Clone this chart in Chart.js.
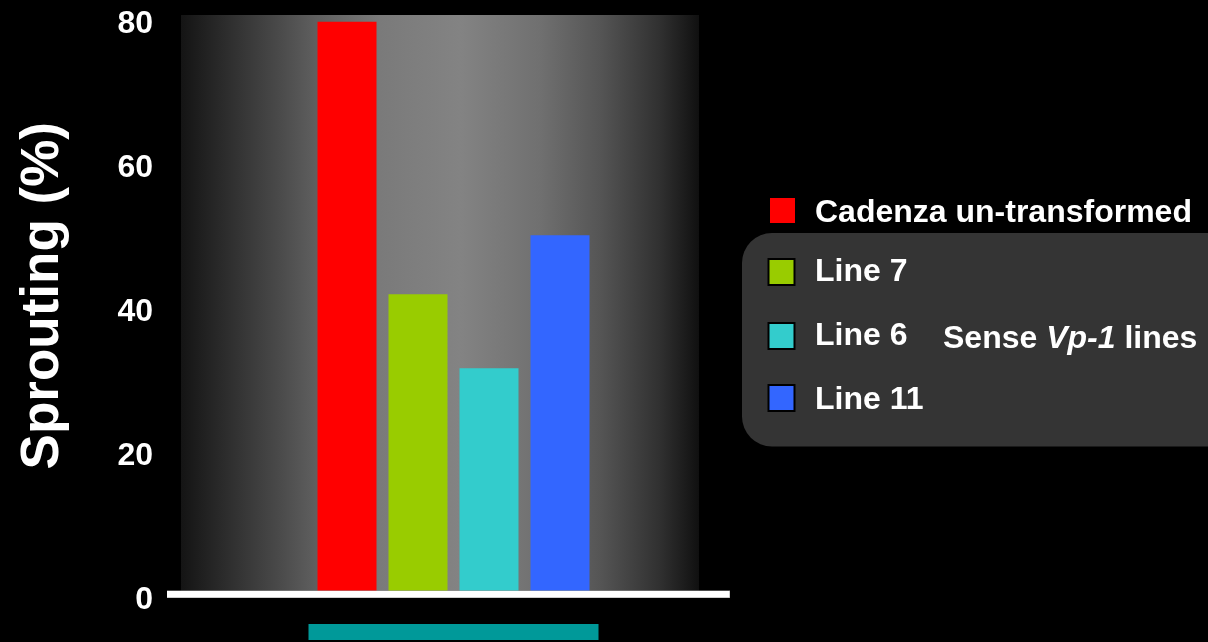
<!DOCTYPE html>
<html><head><meta charset="utf-8">
<script src="https://cdn.jsdelivr.net/npm/chart.js@4.4.1/dist/chart.umd.min.js"></script>
<style>html,body{margin:0;padding:0;background:#000;overflow:hidden}canvas{display:block}</style>
</head><body>
<canvas id="c" width="1208" height="642"></canvas>
<script>
// ---- data ----
const categories = ['Sprouting'];
const seriesNames = ['Cadenza un-transformed', 'Line 7', 'Line 6', 'Line 11'];
const sproutingPercent = [80, 42.1, 31.8, 50.3];
const yTickValues = [0, 20, 40, 60, 80];
const yAxisTitle = 'Sprouting (%)';
const groupNameParts = ['Sense ', 'Vp-1', ' lines'];

// ---- styles ----
const seriesColors = ['#ff0000', '#99cc00', '#33cccc', '#3366ff'];
const FONT = "'Liberation Sans', Arial, Helvetica, sans-serif";
const CAT_PCT = 0.5211, BAR_PCT = 0.831;

const decor = {
  id: 'decor',
  beforeDatasetsDraw(chart) {
    const {ctx, chartArea: a, scales: {y}} = chart;
    const zeroY = y.getPixelForValue(0);
    const left = a.left, right = a.right - 27, top = a.top - 6.5, bottom = zeroY - 6;
    const g = ctx.createLinearGradient(left, 0, right, 0);
    g.addColorStop(0, '#141414');
    g.addColorStop(0.19, '#4a4a4a');
    g.addColorStop(0.26, '#5f5f5f');
    g.addColorStop(0.384, '#7a7a7a');
    g.addColorStop(0.539, '#838383');
    g.addColorStop(0.693, '#707070');
    g.addColorStop(0.809, '#555555');
    g.addColorStop(0.925, '#303030');
    g.addColorStop(1, '#101010');
    ctx.save();
    ctx.fillStyle = g;
    ctx.fillRect(left, top, right - left, bottom - top);
    ctx.restore();
  },
  afterDatasetsDraw(chart) {
    const {ctx, chartArea: a, scales: {x, y}} = chart;
    const zeroY = y.getPixelForValue(0);
    ctx.save();
    // white baseline
    ctx.fillStyle = '#9a9a9a';
    ctx.fillRect(a.left - 14, zeroY - 6.5, (a.right + 4) - (a.left - 14), 7.5);
    ctx.fillStyle = '#ffffff';
    ctx.fillRect(a.left - 14, zeroY - 6, (a.right + 3.5) - (a.left - 14), 6.5);
    // teal category band under the bars
    const cx = x.getPixelForValue(0);
    const half = (a.right - a.left) * CAT_PCT / 2 + 3;
    ctx.fillStyle = '#009999';
    ctx.fillRect(cx - half, 624, 2 * half, 16);
    ctx.restore();
  },
  afterDraw(chart) {
    const {ctx, chartArea: a} = chart;
    const ds = chart.data.datasets;
    ctx.save();
    // y axis title
    ctx.translate(58, (a.top + a.bottom) / 2 - 13.5);
    ctx.rotate(-Math.PI / 2);
    ctx.fillStyle = '#ffffff';
    ctx.font = 'bold 53px ' + FONT;
    ctx.textAlign = 'center';
    ctx.textBaseline = 'alphabetic';
    ctx.fillText(yAxisTitle, 0, 0);
    ctx.restore();

    // legend
    ctx.save();
    ctx.fillStyle = '#343434';
    ctx.beginPath();
    ctx.roundRect(742, 233, 520, 213.5, 30);
    ctx.fill();
    ctx.font = 'bold 32px ' + FONT;
    ctx.textBaseline = 'alphabetic';
    ctx.textAlign = 'left';
    // first item (no border)
    ctx.fillStyle = ds[0].backgroundColor;
    ctx.fillRect(770, 198, 25, 25);
    ctx.fillStyle = '#ffffff';
    ctx.fillText(ds[0].label, 815, 221.5);
    const boxTops = [258, 322, 384];
    const baselines = [281, 344.5, 409];
    for (let i = 1; i < ds.length; i++) {
      const t = boxTops[i - 1];
      ctx.fillStyle = '#000000';
      ctx.fillRect(767.5, t, 28, 28);
      ctx.fillStyle = ds[i].backgroundColor;
      ctx.fillRect(769.5, t + 2, 24, 24);
      ctx.fillStyle = '#ffffff';
      ctx.fillText(ds[i].label, 815, baselines[i - 1]);
    }
    // group label with italic gene name
    let gx = 943;
    const fonts = ['bold 32px ' + FONT, 'italic bold 32px ' + FONT, 'bold 32px ' + FONT];
    groupNameParts.forEach((part, k) => {
      ctx.font = fonts[k];
      ctx.fillText(part, gx, 347.5);
      gx += ctx.measureText(part).width;
    });
    ctx.restore();
  }
};

new Chart(document.getElementById('c'), {
  type: 'bar',
  data: {
    labels: categories,
    datasets: seriesNames.map((name, i) => ({
      label: name,
      data: [sproutingPercent[i]],
      backgroundColor: seriesColors[i],
      borderWidth: 0
    }))
  },
  options: {
    responsive: false,
    animation: false,
    devicePixelRatio: 1,
    layout: {padding: {top: 21.5, right: 482, bottom: 45, left: 0}},
    datasets: {bar: {categoryPercentage: CAT_PCT, barPercentage: BAR_PCT}},
    plugins: {legend: {display: false}, tooltip: {enabled: false}},
    scales: {
      x: {display: false},
      y: {
        min: 0, max: 80,
        afterFit(s) { s.width = 181; s.paddingTop = 0; s.paddingBottom = 0; },
        afterBuildTicks(s) { s.ticks = yTickValues.map(v => ({value: v})); },
        grid: {display: false, drawTicks: false},
        border: {display: false},
        ticks: {padding: 28, labelOffset: 3, color: '#ffffff', font: {family: FONT, size: 32, weight: 'bold'}}
      }
    }
  },
  plugins: [decor]
});
</script>
</body></html>
